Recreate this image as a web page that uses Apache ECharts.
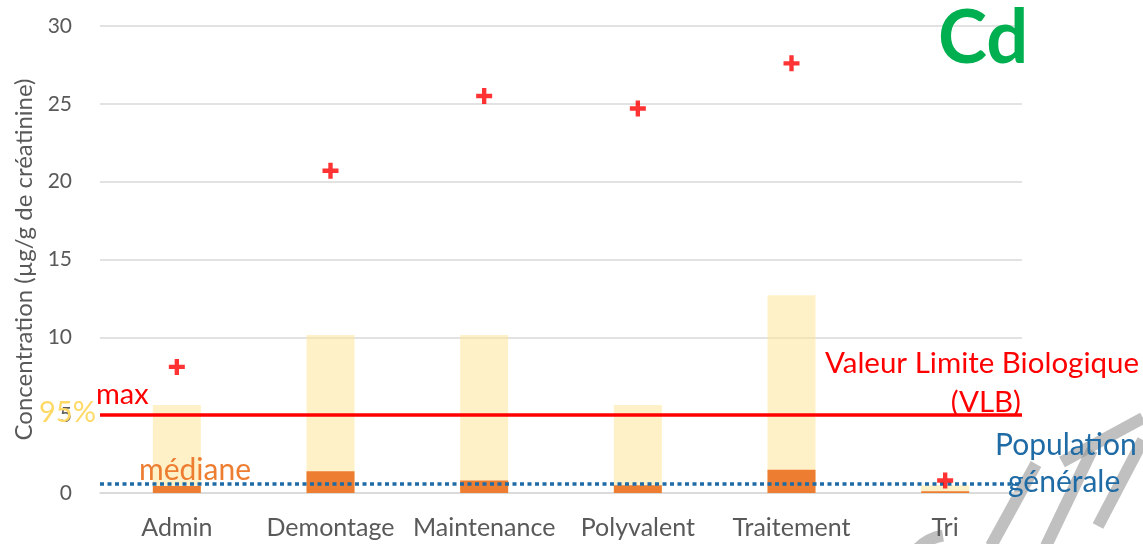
<!DOCTYPE html>
<html>
<head>
<meta charset="utf-8">
<script src="https://cdn.jsdelivr.net/npm/echarts@6/dist/echarts.min.js"></script>
<style>html,body{margin:0;padding:0;background:#fff}#c{width:1143px;height:544px}</style>
</head>
<body>
<div id="c"></div>
<script>
var categories = ['Admin', 'Demontage', 'Maintenance', 'Polyvalent', 'Traitement', 'Tri'];
var p95Values = [5.65, 10.15, 10.15, 5.65, 12.7, 0.5];
var medianValues = [0.45, 1.4, 0.8, 0.5, 1.5, 0.12];
var maxValues = [8.1, 20.7, 25.5, 24.7, 27.6, 0.8];
var vlbValue = 5;
var populationValue = 0.6;
var yTicks = [0, 5, 10, 15, 20, 25, 30];

var FONT = 'Lato, "Open Sans", sans-serif';
var chart = echarts.init(document.getElementById('c'));
var plus = 'path://M4,0H7V4H11V7H7V11H4V7H0V4H4Z';

function label(txt, x, y, color, size, align) {
  return { type: 'text', x: x, y: y, z: 10, silent: true,
    style: { text: txt, fill: color, font: size + 'px ' + FONT, align: align || 'left', verticalAlign: 'middle' } };
}
var wm = 'rgba(150,150,150,0.6)';

chart.setOption({
  animation: false,
  grid: { left: 100, right: 121, top: 26, bottom: 51 },
  xAxis: {
    type: 'category',
    data: categories,
    axisLine: { show: true, lineStyle: { color: '#D9D9D9', width: 1.5 } },
    axisTick: { show: false },
    axisLabel: { color: '#595959', fontSize: 25, fontFamily: FONT, margin: 22, interval: 0 }
  },
  yAxis: {
    type: 'value',
    min: yTicks[0], max: yTicks[yTicks.length - 1], interval: 5,
    name: 'Concentration (µg/g de créatinine)',
    nameLocation: 'middle', nameGap: 60,
    nameTextStyle: { color: '#595959', fontSize: 24, fontFamily: FONT },
    axisLine: { show: false }, axisTick: { show: false },
    axisLabel: { color: '#595959', fontSize: 21, fontFamily: FONT, margin: 28 },
    splitLine: { lineStyle: { color: '#D9D9D9', width: 1.5 } }
  },
  series: [
    {
      type: 'bar', data: p95Values, barWidth: 48, z: 1,
      itemStyle: { color: 'rgba(255,230,153,0.55)' }
    },
    {
      type: 'bar', data: medianValues, barWidth: 48, barGap: '-100%', z: 2,
      itemStyle: { color: '#ED7D31' },
      markLine: {
        symbol: 'none', silent: true, label: { show: false },
        data: [
          { yAxis: vlbValue, lineStyle: { color: '#FF0000', width: 3.5, type: 'solid' } },
          { yAxis: populationValue, lineStyle: { color: '#1F6BA5', width: 3.5, type: [4, 3.5] } }
        ]
      }
    },
    {
      type: 'scatter', data: maxValues, symbol: plus, symbolSize: 16, z: 5,
      itemStyle: { color: '#FF0000' }
    }
  ],
  graphic: [
    { type: 'text', left: 938, top: 2, z: 10, style: { text: 'Cd', fill: '#00B050', font: 'bold 74px ' + FONT } },
    label('max', 96, 395, '#FF0000', 29),
    label('95%', 39, 413, '#FFD966', 29),
    label('médiane', 139, 470, '#ED7D31', 30),
    label('Valeur Limite Biologique', 1139, 363, '#FF0000', 29.5, 'right'),
    label('(VLB)', 1021, 402, '#FF0000', 29.5, 'right'),
    label('Population', 995, 445, '#1F6BA5', 30),
    label('générale', 1008, 482, '#1F6BA5', 30),
    { type: 'group', z: 20, silent: true, children: [
      { type: 'line', shape: { x1: 991, y1: 546, x2: 1036, y2: 464 }, style: { stroke: wm, lineWidth: 12 } },
      { type: 'line', shape: { x1: 1046, y1: 546, x2: 1092, y2: 450 }, style: { stroke: wm, lineWidth: 12 } },
      { type: 'line', shape: { x1: 1062, y1: 462, x2: 1143, y2: 418 }, style: { stroke: wm, lineWidth: 12 } },
      { type: 'line', shape: { x1: 1098, y1: 526, x2: 1143, y2: 440 }, style: { stroke: wm, lineWidth: 12 } },
      { type: 'arc', shape: { cx: 950, cy: 580, r: 45, startAngle: Math.PI * 1.05, endAngle: Math.PI * 1.45 }, style: { stroke: wm, lineWidth: 12, fill: 'none' } }
    ] }
  ]
});
</script>
</body>
</html>
